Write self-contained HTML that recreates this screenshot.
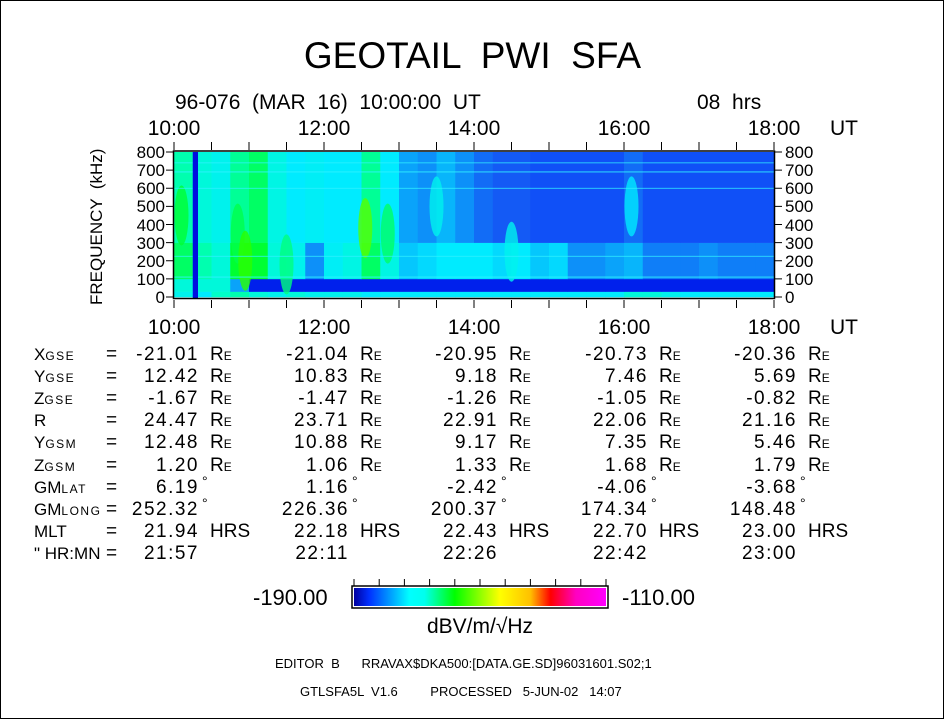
<!DOCTYPE html>
<html><head><meta charset="utf-8">
<style>
body{margin:0;background:#fff;}
#page{position:relative;width:945px;height:720px;overflow:hidden;font-family:"Liberation Sans",sans-serif;color:#000;}
.t{position:absolute;white-space:pre;line-height:1;}
.sc{font-size:12px;letter-spacing:1.5px;}
.tv{letter-spacing:1.5px;}
</style></head>
<body>
<div id="page">
<svg id="svg" width="945" height="720" style="position:absolute;left:0;top:0">
<rect x="0.5" y="0.5" width="943" height="718" fill="none" stroke="#000" stroke-width="1"/>
<g id="spec"></g>
<g id="axes"></g>
<defs><linearGradient id="cb" x1="0" x2="1" y1="0" y2="0">
<stop offset="0" stop-color="#0000a0"/><stop offset="0.06" stop-color="#0030ff"/><stop offset="0.22" stop-color="#00ffff"/><stop offset="0.28" stop-color="#00ffee"/><stop offset="0.4" stop-color="#00ff00"/><stop offset="0.58" stop-color="#ffff00"/><stop offset="0.7" stop-color="#ffc000"/><stop offset="0.78" stop-color="#ff0000"/><stop offset="0.88" stop-color="#ff00c0"/><stop offset="1" stop-color="#ff00ff"/></linearGradient></defs>
<rect x="352" y="586" width="256" height="22" fill="#fff" stroke="#000" stroke-width="1.5"/>
<rect x="354" y="588" width="252" height="18" fill="url(#cb)"/>
<g id="cbt"></g>
</svg>
<div class="t" style="left:0;width:945px;text-align:center;top:37px;font-size:37px;">GEOTAIL  PWI  SFA</div>
<div class="t" style="left:175px;top:92px;font-size:21px;">96-076  (MAR  16)  10:00:00  UT</div>
<div class="t" style="left:697px;top:92px;font-size:21px;">08  hrs</div>
<div class="t" style="left:88px;top:305px;font-size:17px;transform:rotate(-90deg);transform-origin:0 0;">FREQUENCY  (kHz)</div>
<div id="txt"></div>
<div class="t" style="left:253px;top:587px;font-size:22px;">-190.00</div>
<div class="t" style="left:622px;top:587px;font-size:22px;">-110.00</div>
<div class="t" style="left:0;width:960px;text-align:center;top:616px;font-size:21px;">dBV/m/√Hz</div>
<div class="t" style="left:275px;top:657px;font-size:13px;">EDITOR  B      RRAVAX$DKA500:[DATA.GE.SD]96031601.S02;1</div>
<div class="t" style="left:300px;top:685px;font-size:13px;">GTLSFA5L  V1.6         PROCESSED   5-JUN-02   14:07</div>
</div>
<script>
// time bins: 15 min each from 10:00 to 18:00 (32 bins); values dBV/m/sqrtHz
const upperBand=[-165,-168,-170,-164,-162,-169,-172,-171,-172,-172,-164,-172,-176,-177,-175,-177,-179,-180,-180,-181,-181,-181,-181,-181,-179,-181,-181,-181,-181,-181,-181,-181];
const midBand=[-162,-165,-168,-160,-160,-168,-170,-177,-171,-169,-162,-169,-174,-173,-172,-172,-172,-173,-172,-174,-173,-177,-177,-176,-175,-178,-178,-178,-177,-178,-178,-178];
const lowBand=[-168,-168,-168,-176,-186,-186,-186,-186,-186,-186,-186,-186,-186,-186,-186,-186,-186,-186,-186,-186,-186,-186,-186,-186,-186,-186,-186,-186,-186,-186,-186,-186];
const baseBand=[-170,-172,-166,-165,-168,-170,-168,-170,-170,-170,-172,-172,-172,-172,-172,-172,-172,-172,-172,-172,-172,-172,-172,-172,-168,-168,-170,-172,-172,-172,-172,-172];
const bandEdges=[0,30,100,300,800]; // kHz
const bursts=[[10.1,450,-160],[10.85,350,-161],[10.95,200,-156],[11.5,180,-163],[12.55,380,-154],[12.85,350,-162],[13.5,500,-170],[16.1,500,-172],[14.5,250,-170]]; // [hour, kHz, dB]
const gapTimes=[[10.25,10.32]];
const lineFreqs=[110,225,600,690,740];
const yTicks=[0,100,200,300,400,500,600,700,800];
const xLabels=["10:00","12:00","14:00","16:00","18:00"];
const xLabelHours=[10,12,14,16,18];

const X=h=>174+(h-10)*75, Y=f=>297-f*0.18125;
const NS="http://www.w3.org/2000/svg";
function color(v){
  const s=[[-190,[0,0,160]],[-185,[0,40,255]],[-180,[20,90,245]],[-172,[0,235,255]],[-166,[0,255,200]],[-158,[0,255,0]],[-146,[255,255,0]],[-134,[255,160,0]],[-128,[255,0,0]],[-110,[255,0,255]]];
  if(v<=s[0][0])return`rgb(${s[0][1]})`;
  for(let i=1;i<s.length;i++){if(v<=s[i][0]){const t=(v-s[i-1][0])/(s[i][0]-s[i-1][0]);const c=s[i-1][1].map((a,k)=>Math.round(a+(s[i][1][k]-a)*t));return`rgb(${c})`;}}
  return"rgb(255,0,255)";
}
const spec=document.getElementById('spec');
const bands=[baseBand,lowBand,midBand,upperBand];
for(let b=0;b<4;b++){for(let i=0;i<32;i++){
  const r=document.createElementNS(NS,'rect');
  const x0=X(10+i*0.25),x1=X(10+(i+1)*0.25),y0=Y(bandEdges[b+1]),y1=Y(bandEdges[b]);
  r.setAttribute('x',x0);r.setAttribute('y',y0);r.setAttribute('width',x1-x0+0.3);r.setAttribute('height',y1-y0+0.3);
  r.setAttribute('fill',color(bands[b][i]));
  
  
  spec.appendChild(r);}}
bursts.forEach(d=>{const e=document.createElementNS(NS,'ellipse');
  e.setAttribute('cx',X(d[0]));e.setAttribute('cy',Y(d[1]));e.setAttribute('rx',7);e.setAttribute('ry',30);
  e.setAttribute('fill',color(d[2]));e.setAttribute('opacity','0.8');
  
  
  spec.appendChild(e);});
lineFreqs.forEach(f=>{const l=document.createElementNS(NS,'line');
  l.setAttribute('x1',174);l.setAttribute('x2',774);l.setAttribute('y1',Y(f));l.setAttribute('y2',Y(f));
  l.setAttribute('stroke','#30f0ff');l.setAttribute('stroke-width','0.8');
  
  
  spec.appendChild(l);});
gapTimes.forEach(g=>{const r=document.createElementNS(NS,'rect');
  r.setAttribute('x',X(g[0]));r.setAttribute('y',Y(800));r.setAttribute('width',X(g[1])-X(g[0]));r.setAttribute('height',Y(0)-Y(800)+1);
  r.setAttribute('fill','#0010e0');
  
  
  spec.appendChild(r);});
const ax=document.getElementById('axes');
function ln(x1,y1,x2,y2,w){const l=document.createElementNS(NS,'line');l.setAttribute('x1',x1);l.setAttribute('y1',y1);l.setAttribute('x2',x2);l.setAttribute('y2',y2);l.setAttribute('stroke','#000');l.setAttribute('stroke-width',w||1);
  
  
  ax.appendChild(l);}
const fr=document.createElementNS(NS,'rect');
fr.setAttribute('x',173.5);fr.setAttribute('y',Y(800)-1);fr.setAttribute('width',601);fr.setAttribute('height',Y(0)-Y(800)+2.5);fr.setAttribute('fill','none');fr.setAttribute('stroke','#000');fr.setAttribute('stroke-width','1.5');


ax.appendChild(fr);
for(let h=10;h<=18.001;h+=0.5){ln(X(h),142,X(h),150);ln(X(h),300,X(h),308);}
const txt=document.getElementById('txt');
function T(s,x,y,fs,align,name,html,cls){const d=document.createElement('div');d.className='t'+(cls?' '+cls:'');if(html)d.innerHTML=s;else d.textContent=s;d.style.top=y+'px';d.style.fontSize=fs+'px';
  if(align==='r'){d.style.left=(x-300)+'px';d.style.width='300px';d.style.textAlign='right';}
  else if(align==='c'){d.style.left=(x-100)+'px';d.style.width='200px';d.style.textAlign='center';}
  else d.style.left=x+'px';
  
  
  txt.appendChild(d);}
yTicks.forEach(f=>{const y=Y(f);ln(166,y,174,y);ln(774,y,782,y);
  T(String(f),165,y-8,17,'r','y-tick-label');T(String(f),785,y-8,17,'l','y-tick-label-right');});
xLabels.forEach((s,i)=>{T(s,X(xLabelHours[i]),118,21,'c','x-tick-label-top');T(s,X(xLabelHours[i]),317,21,'c','x-tick-label-bottom');});
T('UT',830,118,21,'l','x-unit-top');T('UT',830,317,21,'l','x-unit-bottom');
for(let i=0;i<=10;i++){const x=354+i*25.2;const l=document.createElementNS(NS,'line');l.setAttribute('x1',x);l.setAttribute('x2',x);l.setAttribute('y1',579);l.setAttribute('y2',586);l.setAttribute('stroke','#000');
  
  
  document.getElementById('cbt').appendChild(l);}
// orbit table
const rowLabels=["X<span class=sc>GSE</span>","Y<span class=sc>GSE</span>","Z<span class=sc>GSE</span>","R","Y<span class=sc>GSM</span>","Z<span class=sc>GSM</span>","GM<span class=sc>LAT</span>","GM<span class=sc>LONG</span>","MLT","\" HR:MN"];
const rowUnits=["R<span class=sc>E</span>","R<span class=sc>E</span>","R<span class=sc>E</span>","R<span class=sc>E</span>","R<span class=sc>E</span>","R<span class=sc>E</span>","°","°","HRS",""];
const tableVals=[
["-21.01","-21.04","-20.95","-20.73","-20.36"],
["12.42","10.83","9.18","7.46","5.69"],
["-1.67","-1.47","-1.26","-1.05","-0.82"],
["24.47","23.71","22.91","22.06","21.16"],
["12.48","10.88","9.17","7.35","5.46"],
["1.20","1.06","1.33","1.68","1.79"],
["6.19","1.16","-2.42","-4.06","-3.68"],
["252.32","226.36","200.37","174.34","148.48"],
["21.94","22.18","22.43","22.70","23.00"],
["21:57","22:11","22:26","22:42","23:00"]];
const colRight=[199,349,498,648,797];
rowLabels.forEach((lab,r)=>{const y=345+r*22.1;
  T(lab,34,y+1,17,'l','row-label',true);T('=',106,y,19,'l','equals');
  tableVals[r].forEach((v,c)=>{let rx=colRight[c];T(v,rx,y,19,'r','table-value',false,'tv');
    if(rowUnits[r]){const deg=rowUnits[r]==='°';T(rowUnits[r],rx+(deg?3:11),y+(deg?-4:0),deg?14:19,'l','table-unit',true);}});});
</script>
</body></html>
